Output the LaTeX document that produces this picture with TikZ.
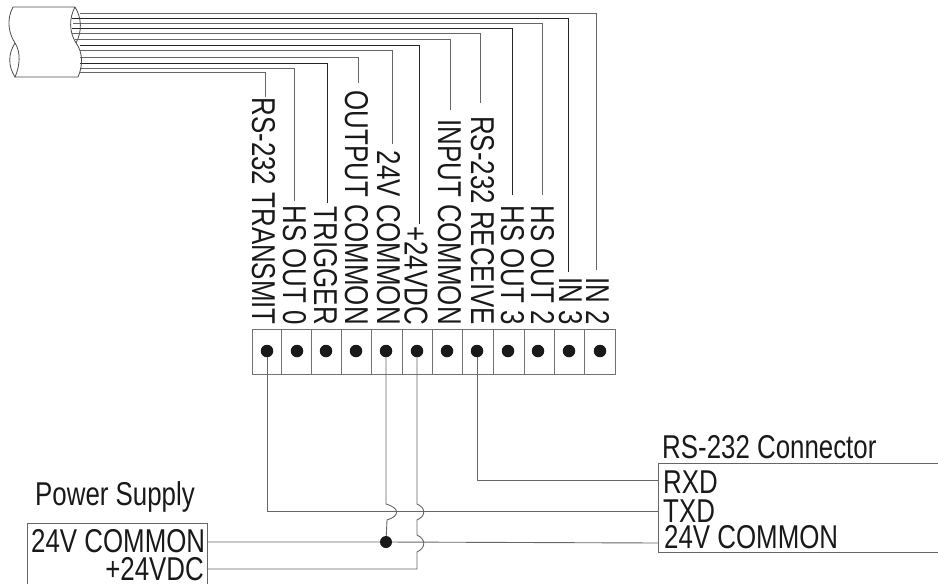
\documentclass[tikz,border=0pt]{standalone}
\usepackage{fontspec}
\setmainfont[FakeStretch=0.784]{Liberation Sans}
\usetikzlibrary{calc}
\tikzset{
  pin/.style={ % rotated label of a terminal
    rotate=-90, anchor=east, inner xsep=0pt, inner ysep=0pt, text=black!90,
    text height=23.6pt, text depth=0pt, font=\fontsize{33}{33}\selectfont
  },
  label/.style={ % label of a box
    anchor=base west, inner sep=0pt, text=black!90, font=\fontsize{33}{33}\selectfont
  },
  cell/.style={
    draw=black!55, line width=0.9pt
  },
  screw/.style={
    circle, fill=black!90, minimum size=12.5pt, inner sep=0pt
  },
  wire/.style={line width=0.9pt, black!60},
  dwire/.style={line width=0.9pt, black!85},
  outline/.style={line width=0.8pt, black!70}
}
\begin{document}
\begin{tikzpicture}[x=1pt,y=-1pt]
  \useasboundingbox (0,0) rectangle (938,584);

  % terminal block
  \foreach \i/\x/\l/\r in {1/267/252/281,2/297/281/311,3/326/311/341,4/356/341/371,
    5/386/371/402,6/417/402/432,7/447/432/462,8/477/462/493,9/508/493/524,
    10/538/524/554,11/569/554/584,12/600/584/615}{
    \draw[cell] (\l,329) rectangle (\r,374);
    \node[screw] (t\i) at (\x.0,351) {};
  }

  % labels and cable wires
  \foreach \i/\c/\x/\y/\t/\e/\s in {
    1/264/265/72/RS-232 TRANSMIT/97/wire,
    2/295/294/68/HS OUT 0/201/wire,
    3/326/327/63/TRIGGER/203/dwire,
    4/357/358/57/OUTPUT COMMON/83/wire,
    5/389/392/50/24V COMMON/144/wire,
    6/416.5/419/45/+24VDC/224/dwire,
    7/450/450/39/INPUT COMMON/110/wire,
    8/483/480/33/RS-232 RECEIVE/103/wire,
    9/513/512/28/HS OUT 3/195/dwire,
    10/543/542/23/HS OUT 2/195/wire,
    11/571/568/18/IN 3/272/dwire,
    12/598/596/13/IN 2/270/wire}{
    \node[pin] (lbl\i) at (\c,325) {\t};
    \coordinate (start\i) at (80,\y.0);
    \coordinate (end\i) at (\x.0,\e.0);
    \draw[\s] (start\i) -| (end\i);
  }

  % cable
  \draw[outline] (13,7) -- (75,7)
    (15,77) -- (78,77)
    (13,7) .. controls (6,20) and (9,34) .. (15,43)
    .. controls (21,52) and (20,66) .. (15,77)
    .. controls (8,66) and (8,54) .. (15,43)
    (75,7) .. controls (69,18) and (69,32) .. (76,43)
    .. controls (83,52) and (83,66) .. (78,77)
    (75,7) .. controls (82,18) and (82,32) .. (76,43);
  \draw[dwire] (72,18) -- (80,18) (72,28) -- (80,28);
  \draw[wire] (73,23) -- (80,23) (72,33) -- (80,33) (75,39) -- (80,39);

  % power supply
  \coordinate (psbl) at (27,584);
  \coordinate (psbr) at (207,584);
  \draw[wire] (psbl) |- (207,523) -- (psbr);
  \node[label] (pstitle) at (35,505) {Power Supply};
  \node[label] (pscommon) at (31,552) {24V COMMON};
  \node[label,anchor=base east] (psplus) at (204,580) {+24VDC};
  \coordinate (pscom) at (207,542);
  \coordinate (pspos) at (207,569);

  % rs-232 connector
  \coordinate (rstr) at (938,463);
  \coordinate (rsbr) at (938,552);
  \draw[wire] (rstr) -| (658,552) -- (rsbr);
  \node[label] (rstitle) at (662,458) {RS-232 Connector};
  \node[label] (rxd) at (663,493) {RXD};
  \node[label] (txd) at (663,522) {TXD};
  \node[label] (rscom) at (664,548) {24V COMMON};
  \coordinate (rsrx) at (658,480);
  \coordinate (rstx) at (658,511);
  \coordinate (rsgnd) at (658,543);

  % wiring
  \node[screw,minimum size=12pt] (junction) at (386,542) {};
  \draw[wire] (t1) -- (267,511) -- (rstx);
  \draw[wire] (t8) -- (477,480) -- (rsrx);
  \draw[wire] (t5) -- (386,504) .. controls (400,508) and (400,516) .. (387,520) -- (junction);
  \draw[wire] (t6) -- (417,504) .. controls (426,508) and (426,516) .. (417,520)
    -- (417,535) .. controls (426,539) and (426,548) .. (417,552) -- (417,569) -- (pspos);
  \draw[wire] (pscom) -- (junction) -- (rsgnd);
\end{tikzpicture}
\end{document}
